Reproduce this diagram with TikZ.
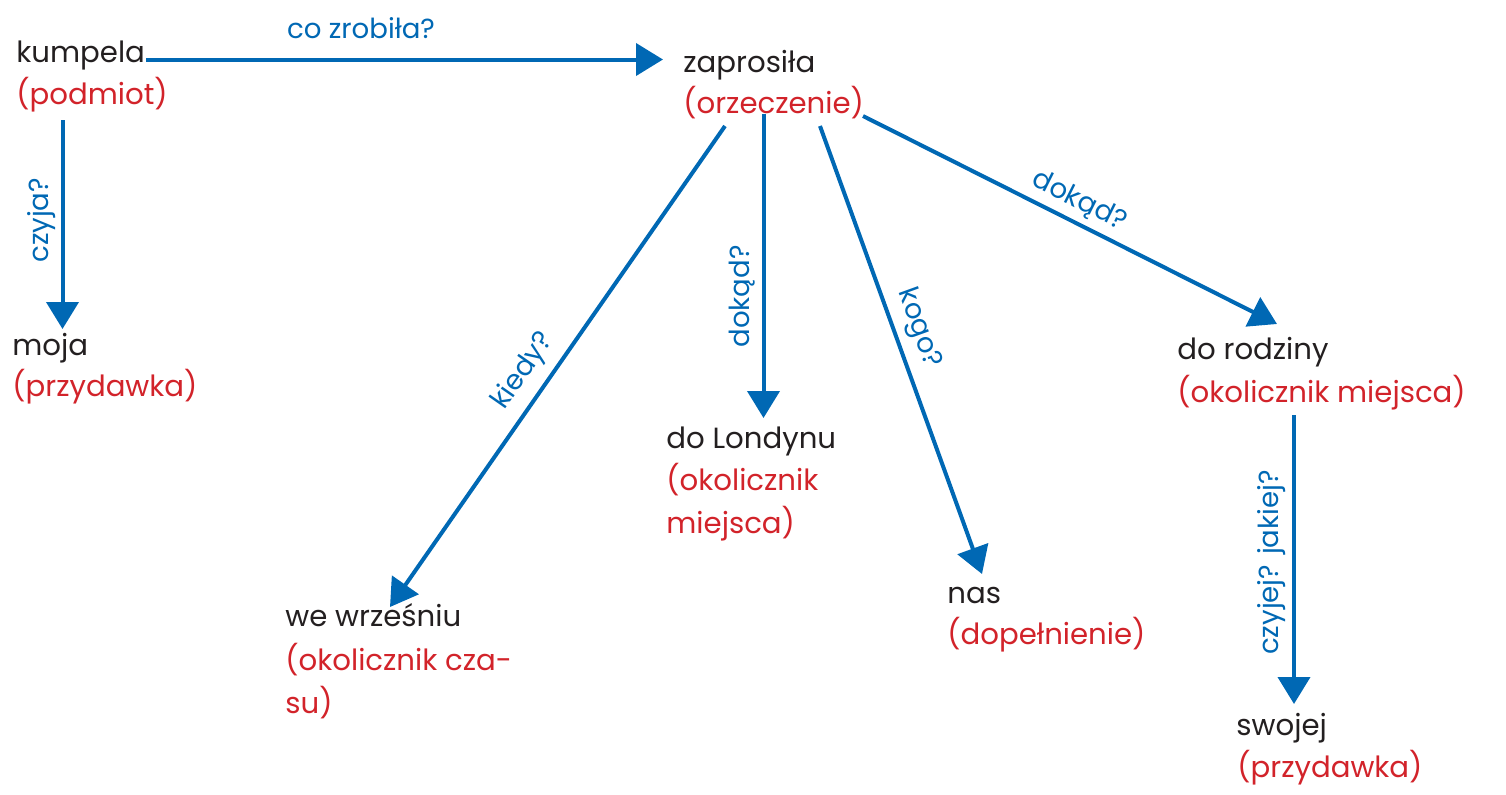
\documentclass[tikz,border=0pt]{standalone}
\usepackage{fontspec}
\setmainfont{Poppins}
\usetikzlibrary{arrows.meta}
\definecolor{lblue}{RGB}{0,104,180}
\definecolor{lred}{RGB}{210,35,42}
\definecolor{ltext}{RGB}{35,31,32}
\begin{document}
\begin{tikzpicture}[x=0.5pt,y=-0.5pt,
  word/.style={anchor=base west, inner sep=0pt, text=ltext, font=\fontsize{14.6}{17}\selectfont},
  role/.style={word, text=lred},
  conn/.style={draw=lblue, line width=2pt, -{Triangle[length=13.5pt,width=16pt]}},
  qlabel/.style={text=lblue, font=\fontsize{13.8}{16}\selectfont, inner sep=2.5pt}]
\useasboundingbox (0,0) rectangle (1506,794);

% words and roles
\node[word] (kumpela) at (16,62) {kumpela};
\node[role] (kumpelaR) at (16,104) {(podmiot)};
\node[word] (zaprosila) at (683,72) {zaprosiła};
\node[role] (zaprosilaR) at (683,113) {(orzeczenie)};
\node[word] (moja) at (12,355) {moja};
\node[role] (mojaR) at (12,396) {(przydawka)};
\node[word] (wrzesniu) at (285,626) {we wrześniu};
\node[role] (wrzesniuR) at (285,670) {(okolicznik cza-};
\node[role] (wrzesniuR2) at (285,713) {su)};
\node[word] (londyn) at (666,448) {do Londynu};
\node[role] (londynR) at (666,490) {(okolicznik};
\node[role] (londynR2) at (666,533) {miejsca)};
\node[word] (nas) at (947,603) {nas};
\node[role] (nasR) at (947,644) {(dopełnienie)};
\node[word] (rodzina) at (1177,359) {do rodziny};
\node[role] (rodzinaR) at (1177,402) {(okolicznik miejsca)};
\node[word] (swojej) at (1236,735) {swojej};
\node[role] (swojejR) at (1237,777) {(przydawka)};

% connector ends
\coordinate (kumE) at (146,59.5);
\coordinate (zapW) at (663,59.5);
\coordinate (kumS) at (62.5,120);
\coordinate (mojN) at (62.5,329);
\coordinate (zapA) at (725,126);
\coordinate (wrzN) at (390,607);
\coordinate (zapB) at (763.5,114);
\coordinate (lonN) at (763.5,418);
\coordinate (zapC) at (820,126);
\coordinate (nasN) at (982,574);
\coordinate (zapD) at (863,116);
\coordinate (rodN) at (1277,324);
\coordinate (rodS) at (1294,415);
\coordinate (swoN) at (1294,704);

% connectors
\draw[conn] (kumE) -- (zapW);
\node[qlabel, anchor=base] (q1) at (361,38) {co zrobiła?};
\draw[conn] (kumS) -- node[qlabel, pos=0.48, rotate=90, anchor=south] (q2) {czyja?} (mojN);
\draw[conn] (zapA) -- node[qlabel, pos=0.54, sloped, above, inner sep=4.5pt] (q3) {kiedy?} (wrzN);
\draw[conn] (zapB) -- node[qlabel, pos=0.6, rotate=90, anchor=south, inner sep=3pt] (q4) {dokąd?} (lonN);
\draw[conn] (zapC) -- node[qlabel, pos=0.47, sloped, above, inner sep=4pt] (q5) {kogo?} (nasN);
\draw[conn] (zapD) -- node[qlabel, pos=0.5, sloped, above, inner sep=3pt] (q6) {dokąd?} (rodN);
\draw[conn] (rodS) -- node[qlabel, pos=0.51, rotate=90, anchor=south, inner sep=3pt] (q7) {czyjej? jakiej?} (swoN);
\end{tikzpicture}
\end{document}
